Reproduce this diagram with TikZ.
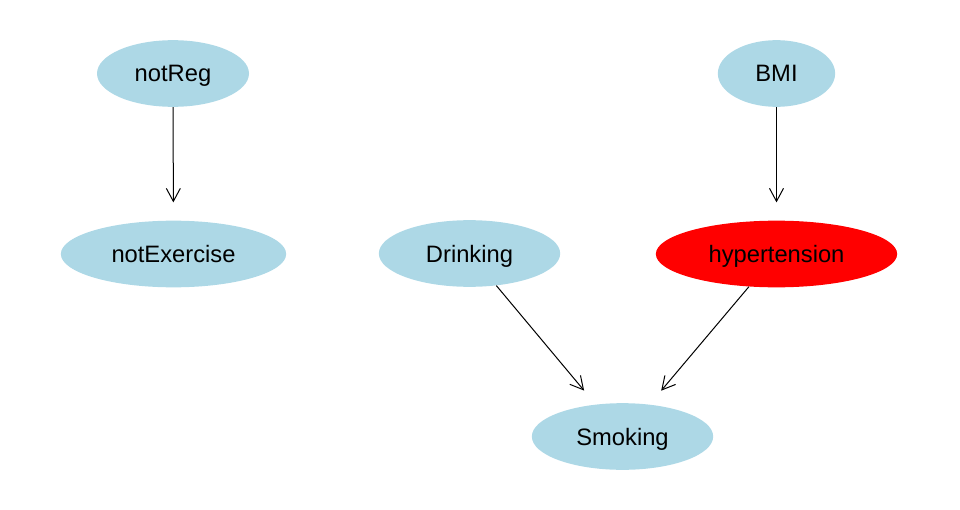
\documentclass[tikz,border=0pt]{standalone}
\usepackage{fontspec}
\setmainfont{Liberation Sans}
\usetikzlibrary{shapes.geometric,arrows.meta}
\definecolor{nodeblue}{RGB}{173,216,230}
\definecolor{nodered}{RGB}{255,0,0}
\begin{document}
\begin{tikzpicture}[x=0.75pt,y=-0.75pt,
  var/.style={ellipse,fill=nodeblue,draw=none,inner sep=0pt,
    text depth=0pt,font=\fontsize{17.8}{21}\selectfont},
  edge/.style={line width=0.75pt,-{Straight Barb[length=9.75pt,width=10.5pt,line width=0.75pt]},shorten >=13.5pt}]
\useasboundingbox (0,0) rectangle (960,510);
\node[var,minimum width=114pt,minimum height=50pt] (notReg) at (173,73.5) {notReg};
\node[var,minimum width=169pt,minimum height=50pt] (notExercise) at (173.5,254) {notExercise};
\node[var,minimum width=88pt,minimum height=50pt] (BMI) at (776.5,73.5) {BMI};
\node[var,minimum width=136pt,minimum height=50pt] (Drinking) at (469.5,253.5) {Drinking};
\node[var,fill=nodered,minimum width=181pt,minimum height=50pt] (hypertension) at (776.5,254) {hypertension};
\node[var,minimum width=136pt,minimum height=50pt] (Smoking) at (622.5,436.5) {Smoking};
\draw[edge] (notReg) -- (notExercise);
\draw[edge] (BMI) -- (hypertension);
\draw[edge] (Drinking) -- (Smoking);
\draw[edge] (hypertension) -- (Smoking);
\end{tikzpicture}
\end{document}
